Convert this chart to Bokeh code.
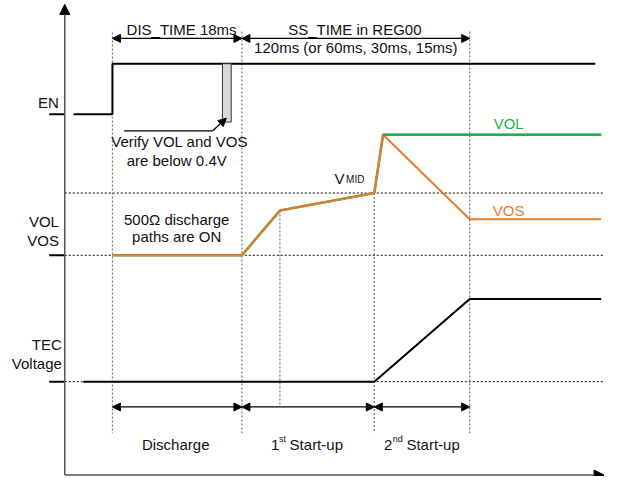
from bokeh.plotting import figure
from bokeh.models import Range1d, Arrow, NormalHead
from bokeh.core.properties import value
from bokeh.embed import file_html
from bokeh.resources import INLINE

# ---- time marks along the horizontal (time) axis, diagram units ----
t_axis = 66
t_tick = 50
t_en_lead = 75
t_tec_start = 85
t_en = 115          # EN rising edge
t_dis_end = 248     # end of DIS_TIME (18 ms)
t_knee = 287        # 1st start-up knee
t_mid = 384         # VMID reached
t_peak = 393        # VOL reaches final level
t_ss_end = 482      # end of SS_TIME
t_en_end = 611
t_end = 617
t_axis_end = 620

# ---- signal levels (diagram units, increasing downward) ----
y_axis_top = 4
y_axis_bottom = 488
y_time_arrow = 39
y_en_high = 65
y_en_low = 117
y_vol_high = 138
y_vmid = 198
y_knee = 216
y_vos_final = 225
y_v0 = 262
y_tec_high = 307
y_tec_low = 392
y_phase_arrow = 418
y_dash_bottom = 445

# ---- waveforms ----
en_x = [t_en_lead, t_en, t_en, t_en_end]
en_y = [y_en_low, y_en_low, y_en_high, y_en_high]
vol_x = [t_en, t_dis_end, t_knee, t_mid, t_peak, t_end]
vol_y = [y_v0, y_v0, y_knee, y_vmid, y_vol_high, y_vol_high]
vos_x = [t_en, t_dis_end, t_knee, t_mid, t_peak, t_ss_end, t_end]
vos_y = [y_v0, y_v0, y_knee, y_vmid, y_vol_high, y_vos_final, y_vos_final]
tec_x = [t_tec_start, t_mid, t_ss_end, t_end]
tec_y = [y_tec_low, y_tec_low, y_tec_high, y_tec_high]

# verify window box
verify_left, verify_right, verify_top, verify_bottom = 228, 237, 65, 125

GREEN = "#1faf4b"
ORANGE = "#ec7a26"
FONT = value("Liberation Sans")
FS = value("15px")
LIFT = 4  # text baseline correction

p = figure(width=605, height=476, output_backend="svg", toolbar_location=None,
           x_range=Range1d(0, 621.5), y_range=Range1d(489.5, 0),
           min_border=0, outline_line_color=None)
p.axis.visible = False
p.grid.visible = False
p.background_fill_color = "white"
p.border_fill_color = "white"

# horizontal reference dotted lines
for yy in [y_vmid, y_v0, y_tec_low]:
    p.line([t_axis, t_axis_end], [yy, yy], line_color="black", line_width=1,
           line_dash="2 2")

# vertical dashed markers
vdash = [(t_en, 33, y_dash_bottom), (t_dis_end, 32, y_dash_bottom),
         (t_knee, y_knee, y_phase_arrow), (t_mid, y_vmid, y_dash_bottom),
         (t_ss_end, 32, y_dash_bottom)]
for xx, y0, y1 in vdash:
    p.line([xx, xx], [y0, y1], line_color="#777777", line_width=1.2,
           line_dash="2 2")

# level ticks on the left
for yy in [y_en_low, y_v0, y_tec_low]:
    p.line([t_tick, t_axis], [yy, yy], line_color="black", line_width=2)

# waveforms
p.line(en_x, en_y, line_color="black", line_width=2)
p.line(tec_x, tec_y, line_color="black", line_width=2)
p.line(vol_x, vol_y, line_color=GREEN, line_width=2.6)
p.line(vos_x, vos_y, line_color=ORANGE, line_width=2)
p.line(vol_x[-2:], vol_y[-2:], line_color=GREEN, line_width=2)

# verify window
p.quad(left=verify_left, right=verify_right, top=verify_top, bottom=verify_bottom,
       fill_color="#d9d9d9", line_color="#333333", line_width=1)
p.line([127, 218], [134, 134], line_color="black", line_width=1.3)
p.add_layout(Arrow(x_start=218, y_start=134, x_end=232, y_end=121,
                   line_color="black", line_width=1.3,
                   end=NormalHead(size=8, fill_color="black", line_color="black")))

# main axes
p.add_layout(Arrow(x_start=t_axis, y_start=y_axis_bottom, x_end=t_axis, y_end=y_axis_top,
                   line_color="#555555", line_width=1.5,
                   end=NormalHead(size=10, fill_color="black", line_color="black")))
p.add_layout(Arrow(x_start=t_axis, y_start=y_axis_bottom, x_end=t_axis_end, y_end=y_axis_bottom,
                   line_color="#555555", line_width=1.5,
                   end=NormalHead(size=10, fill_color="black", line_color="black")))

# double-headed interval arrows
def dbl(x0, x1, yy):
    p.add_layout(Arrow(x_start=x0, y_start=yy, x_end=x1, y_end=yy,
                       line_color="black", line_width=1.3,
                       start=NormalHead(size=8, fill_color="black", line_color="black"),
                       end=NormalHead(size=8, fill_color="black", line_color="black")))

dbl(t_en, t_dis_end, y_time_arrow)
dbl(t_dis_end, t_ss_end, y_time_arrow)
dbl(t_en, t_dis_end, y_phase_arrow)
dbl(t_dis_end, t_mid, y_phase_arrow)
dbl(t_mid, t_ss_end, y_phase_arrow)

def txt(x, y, s, align="center", color="#111111", size=FS):
    p.text(x=[x], y=[y - LIFT], text=[s], text_align=align, text_baseline="alphabetic",
           text_font=FONT, text_font_size=size, text_color=color)

# left labels
txt(60, 109, "EN", "right")
txt(60, 231, "VOL", "right")
txt(60, 251, "VOS", "right")
txt(63, 358, "TEC", "right")
txt(63, 377, "Voltage", "right")

# top annotations
txt(186, 34, "DIS_TIME 18ms")
txt(364, 34, "SS_TIME in REG00")
txt(365, 52, "120ms (or 60ms, 30ms, 15ms)")

# inner annotations
txt(184, 149, "Verify VOL and VOS")
txt(181, 169, "are below 0.4V")
txt(181, 229, "500\u03a9 discharge")
txt(181, 247, "paths are ON")
txt(343, 187, "V", "left")
txt(355, 188, "MID", "left", size=value("10px"))
txt(522, 131, "VOL", color=GREEN)
txt(522, 220, "VOS", color=ORANGE)

# phase labels
txt(180, 461, "Discharge")
txt(278, 461, "1", "left")
txt(286, 455, "st", "left", size=value("9px"))
txt(297, 461, "Start-up", "left")
txt(394, 461, "2", "left")
txt(403, 455, "nd", "left", size=value("9px"))
txt(417, 461, "Start-up", "left")

open("out.html", "w").write(file_html(p, INLINE))
